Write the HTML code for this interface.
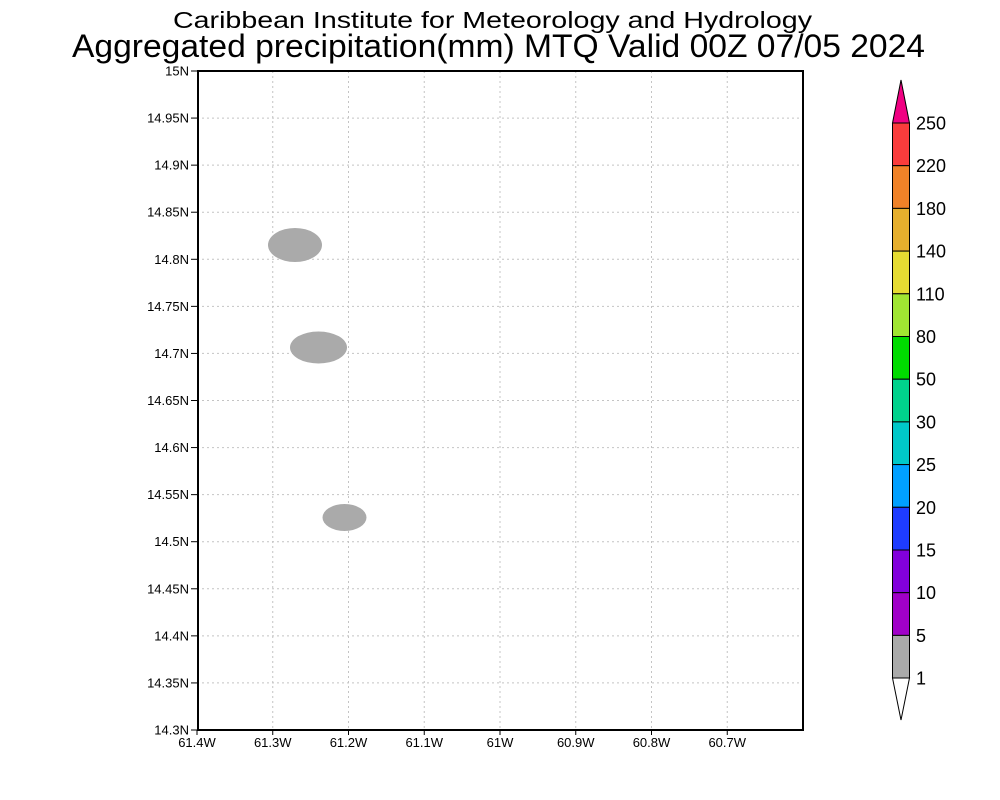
<!DOCTYPE html>
<html><head><meta charset="utf-8"><style>
html,body{margin:0;padding:0;background:#fff;}
svg{display:block;}
text{font-family:"Liberation Sans",sans-serif;fill:#000;}
</style></head><body>
<svg width="1000" height="800" viewBox="0 0 1000 800" xmlns="http://www.w3.org/2000/svg">
<rect x="0" y="0" width="1000" height="800" fill="#fff"/>
<!-- titles -->
<text x="173" y="28" font-size="23" textLength="639" lengthAdjust="spacingAndGlyphs" fill="#111">Caribbean Institute for Meteorology and Hydrology</text>
<text x="72" y="57" font-size="32" textLength="853" lengthAdjust="spacingAndGlyphs" fill="#111">Aggregated precipitation(mm) MTQ Valid 00Z 07/05 2024</text>

<!-- grid -->
<g stroke="#c4c4c4" stroke-width="1" stroke-dasharray="2,3" fill="none">
<line x1="272.75" y1="71" x2="272.75" y2="730"/>
<line x1="348.5" y1="71" x2="348.5" y2="730"/>
<line x1="424.25" y1="71" x2="424.25" y2="730"/>
<line x1="500" y1="71" x2="500" y2="730"/>
<line x1="575.75" y1="71" x2="575.75" y2="730"/>
<line x1="651.5" y1="71" x2="651.5" y2="730"/>
<line x1="727.25" y1="71" x2="727.25" y2="730"/>
<line x1="197" y1="118.07" x2="803" y2="118.07"/>
<line x1="197" y1="165.14" x2="803" y2="165.14"/>
<line x1="197" y1="212.21" x2="803" y2="212.21"/>
<line x1="197" y1="259.29" x2="803" y2="259.29"/>
<line x1="197" y1="306.36" x2="803" y2="306.36"/>
<line x1="197" y1="353.43" x2="803" y2="353.43"/>
<line x1="197" y1="400.5" x2="803" y2="400.5"/>
<line x1="197" y1="447.57" x2="803" y2="447.57"/>
<line x1="197" y1="494.64" x2="803" y2="494.64"/>
<line x1="197" y1="541.71" x2="803" y2="541.71"/>
<line x1="197" y1="588.79" x2="803" y2="588.79"/>
<line x1="197" y1="635.86" x2="803" y2="635.86"/>
<line x1="197" y1="682.93" x2="803" y2="682.93"/>
</g>

<!-- precipitation blobs -->
<g fill="#aaaaaa">
<ellipse cx="295" cy="245" rx="27" ry="17"/>
<ellipse cx="318.5" cy="347.5" rx="28.5" ry="16"/>
<ellipse cx="344.5" cy="517.5" rx="22" ry="13.5"/>
</g>

<!-- frame -->
<rect x="198" y="71" width="605" height="659" fill="none" stroke="#000" stroke-width="2"/>

<!-- ticks -->
<g stroke="#000" stroke-width="1">
<line x1="191" y1="71" x2="197" y2="71"/>
<line x1="191" y1="118.07" x2="197" y2="118.07"/>
<line x1="191" y1="165.14" x2="197" y2="165.14"/>
<line x1="191" y1="212.21" x2="197" y2="212.21"/>
<line x1="191" y1="259.29" x2="197" y2="259.29"/>
<line x1="191" y1="306.36" x2="197" y2="306.36"/>
<line x1="191" y1="353.43" x2="197" y2="353.43"/>
<line x1="191" y1="400.5" x2="197" y2="400.5"/>
<line x1="191" y1="447.57" x2="197" y2="447.57"/>
<line x1="191" y1="494.64" x2="197" y2="494.64"/>
<line x1="191" y1="541.71" x2="197" y2="541.71"/>
<line x1="191" y1="588.79" x2="197" y2="588.79"/>
<line x1="191" y1="635.86" x2="197" y2="635.86"/>
<line x1="191" y1="682.93" x2="197" y2="682.93"/>
<line x1="191" y1="730" x2="197" y2="730"/>
<line x1="197" y1="730" x2="197" y2="735"/>
<line x1="272.75" y1="730" x2="272.75" y2="735"/>
<line x1="348.5" y1="730" x2="348.5" y2="735"/>
<line x1="424.25" y1="730" x2="424.25" y2="735"/>
<line x1="500" y1="730" x2="500" y2="735"/>
<line x1="575.75" y1="730" x2="575.75" y2="735"/>
<line x1="651.5" y1="730" x2="651.5" y2="735"/>
<line x1="727.25" y1="730" x2="727.25" y2="735"/>
</g>

<!-- y labels -->
<g font-size="13" text-anchor="end">
<text x="189" y="75.5">15N</text>
<text x="189" y="122.5">14.95N</text>
<text x="189" y="169.6">14.9N</text>
<text x="189" y="216.7">14.85N</text>
<text x="189" y="263.8">14.8N</text>
<text x="189" y="310.9">14.75N</text>
<text x="189" y="357.9">14.7N</text>
<text x="189" y="405">14.65N</text>
<text x="189" y="452.1">14.6N</text>
<text x="189" y="499.1">14.55N</text>
<text x="189" y="546.2">14.5N</text>
<text x="189" y="593.3">14.45N</text>
<text x="189" y="640.4">14.4N</text>
<text x="189" y="687.4">14.35N</text>
<text x="189" y="734.5">14.3N</text>
</g>

<!-- x labels -->
<g font-size="13" text-anchor="middle">
<text x="197" y="747">61.4W</text>
<text x="272.75" y="747">61.3W</text>
<text x="348.5" y="747">61.2W</text>
<text x="424.25" y="747">61.1W</text>
<text x="500" y="747">61W</text>
<text x="575.75" y="747">60.9W</text>
<text x="651.5" y="747">60.8W</text>
<text x="727.25" y="747">60.7W</text>
</g>

<!-- colorbar -->
<g stroke="#000" stroke-width="1">
<polygon points="901,80 892.5,123 909.5,123" fill="rgb(240,0,130)"/>
<rect x="892.5" y="123" width="17" height="42.7" fill="rgb(250,60,60)"/>
<rect x="892.5" y="165.7" width="17" height="42.7" fill="rgb(240,130,40)"/>
<rect x="892.5" y="208.4" width="17" height="42.7" fill="rgb(230,175,45)"/>
<rect x="892.5" y="251.1" width="17" height="42.7" fill="rgb(230,220,50)"/>
<rect x="892.5" y="293.8" width="17" height="42.7" fill="rgb(160,230,50)"/>
<rect x="892.5" y="336.5" width="17" height="42.7" fill="rgb(0,220,0)"/>
<rect x="892.5" y="379.2" width="17" height="42.7" fill="rgb(0,210,140)"/>
<rect x="892.5" y="421.9" width="17" height="42.7" fill="rgb(0,200,200)"/>
<rect x="892.5" y="464.6" width="17" height="42.7" fill="rgb(0,160,255)"/>
<rect x="892.5" y="507.3" width="17" height="42.7" fill="rgb(30,60,255)"/>
<rect x="892.5" y="550" width="17" height="42.7" fill="rgb(130,0,220)"/>
<rect x="892.5" y="592.7" width="17" height="42.7" fill="rgb(160,0,200)"/>
<rect x="892.5" y="635.4" width="17" height="42.6" fill="rgb(170,170,170)"/>
<polygon points="892.5,678 909.5,678 901,720" fill="#fff"/>
</g>
<g font-size="18">
<text x="916" y="129.5">250</text>
<text x="916" y="172.2">220</text>
<text x="916" y="214.9">180</text>
<text x="916" y="257.6">140</text>
<text x="916" y="300.3">110</text>
<text x="916" y="343">80</text>
<text x="916" y="385.7">50</text>
<text x="916" y="428.4">30</text>
<text x="916" y="471.1">25</text>
<text x="916" y="513.8">20</text>
<text x="916" y="556.5">15</text>
<text x="916" y="599.2">10</text>
<text x="916" y="641.9">5</text>
<text x="916" y="684.5">1</text>
</g>
</svg>
</body></html>
